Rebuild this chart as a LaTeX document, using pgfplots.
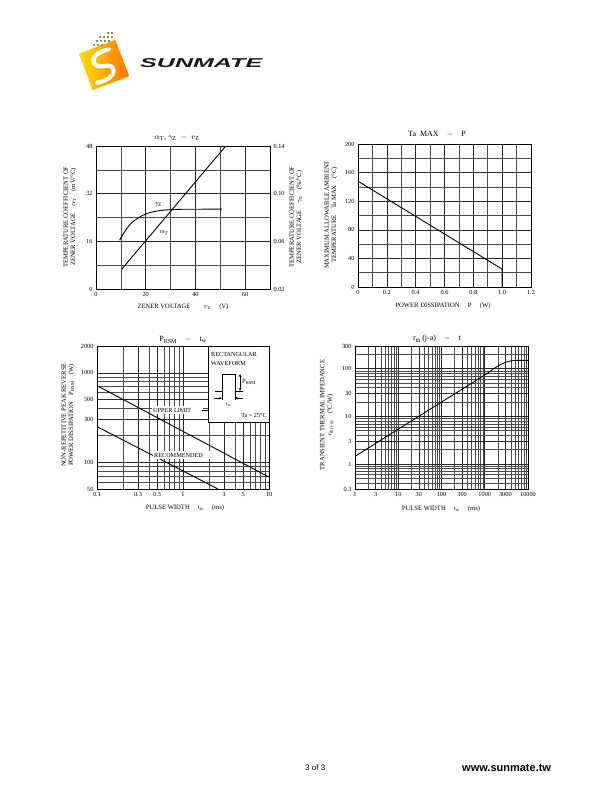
\documentclass[border=0pt]{standalone}
\usepackage{fontspec}
\setmainfont{Liberation Serif}
\newfontfamily\arial{Liberation Sans}
\usepackage{pgfplots}
\pgfplotsset{compat=1.18}
\newcommand\tk{\fontsize{6.3}{7}\selectfont}
\newcommand\lab{\fontsize{6.6}{7.4}\selectfont}
\newcommand\ttl{\fontsize{8}{9}\selectfont}
\pgfplotsset{ds/.style={scale only axis, anchor=south west,
  axis line style={black, line width=0.9pt},
  grid=both,
  major grid style={black!85, line width=0.55pt},
  minor grid style={black!70, line width=0.55pt},
  major tick length=0pt, minor tick length=0pt,
  tick label style={font=\tk},
  xtick pos=bottom, ytick pos=left,
  /pgf/number format/assume math mode=true,
  clip=true}}
\begin{document}
\begin{tikzpicture}[x=1pt,y=1pt]
\path[use as bounding box] (0,0) rectangle (610,-810);

% ---------- logo ----------
\begin{scope}[shift={(104,-65)}, rotate=21]
  \shade[left color=yellow!75!orange, right color=orange!90!red] (-19.5,-19.5) rectangle (19.5,19.5);
  \draw[white, line width=4.2pt, line cap=round] (10,13) .. controls (-14,16) and (-12,0) .. (0,-1) .. controls (12,-2) and (10,-18) .. (-13,-14);
\end{scope}
\foreach \x/\y in {100/-37,104/-37,108/-37,112/-37,97/-41,101/-41,105/-41,109/-41,94/-45,98/-45,102/-45,112/-33,108/-33}
  \fill[olive!60!gray] (\x-1.3,\y-1.3) rectangle (\x+1.3,\y+1.3);
\node[anchor=west, inner sep=0pt, text=black!90] at (140,-63) {\resizebox{122pt}{9pt}{\arial\bfseries\itshape SUNMATE}};

% ---------- chart 1 ----------
\begin{axis}[ds, at={(96pt,-289pt)}, width=174pt, height=143pt,
  xmin=0, xmax=70, ymin=0, ymax=48,
  xtick={0,20,40,60}, minor xtick={10,30,50},
  ytick={0,16,32,48}, minor ytick={8,24,40}]
  \addplot[black, line width=0.9pt] coordinates {(10.3,6.6) (52.2,48)};
\end{axis}
\begin{axis}[scale only axis, anchor=south west, at={(96pt,-289pt)}, width=174pt, height=143pt,
  xmin=0, xmax=70, ymin=0.02, ymax=0.14, hide x axis, axis y line*=right,
  axis line style={black, line width=0.9pt}, major tick length=0pt,
  ytick={0.02,0.06,0.10,0.14}, yticklabels={0.02,0.06,0.10,0.14},
  tick label style={font=\tk}, /pgf/number format/assume math mode=true]
  \addplot[black, line width=0.9pt, smooth, tension=0.5] coordinates {(9.5,0.061) (11,0.0665) (12.5,0.071) (14.3,0.0755) (16.5,0.079) (19,0.082) (22,0.0843) (25.7,0.0858) (30,0.0866) (35,0.0869) (50.6,0.087)};
\end{axis}
\node[font=\ttl] at (177,-138) {$\alpha_{\rm T}$, $\gamma_{\rm Z}$ \ $-$ \ $v_{\rm Z}$};
\node[font=\fontsize{7.5}{8}\selectfont] at (158,-205) {$\gamma_{\rm Z}$};
\node[font=\fontsize{7.5}{8}\selectfont] at (164,-233) {$\alpha_{\rm T}$};
\node[rotate=90, align=center, font=\lab] at (70,-217) {TEMPERATURE COEFFICIENT OF\\ZENER VOLTAGE\quad $\alpha_{\rm T}$\quad (mV/°C)};
\node[rotate=90, align=center, font=\lab] at (296,-217) {TEMPERATURE COEFFICIENT OF\\ZENER VOLTAGE\quad $\gamma_{\rm Z}$\quad (\%/°C)};
\node[font=\lab] at (183,-307) {ZENER VOLTAGE\qquad $v_{\rm Z}$\quad\ (V)};

% ---------- chart 2 ----------
\begin{axis}[ds, at={(358pt,-287pt)}, width=173pt, height=143pt,
  xmin=0, xmax=1.2, ymin=0, ymax=200,
  xtick={0,0.2,0.4,0.6,0.8,1.0,1.2}, xticklabels={0,0.2,0.4,0.6,0.8,1.0,1.2},
  minor xtick={0.1,0.3,0.5,0.7,0.9,1.1},
  ytick={0,40,80,120,160,200}, minor ytick={20,60,100,140,180}]
  \addplot[black, line width=0.9pt] coordinates {(0,148) (1.0,25) (1.0,0)};
\end{axis}
\node[font=\ttl] at (437,-134) {Ta\ \ MAX\quad$-$\quad P};
\node[rotate=90, align=center, font=\lab] at (331,-215) {MAXIMUM ALLOWABLE AMBIENT\\TEMPERATURE\quad Ta MAX\quad (°C)};
\node[font=\lab] at (443,-306) {POWER DISSIPATION\quad\ P\quad\ (W)};

% ---------- chart 3 ----------
\begin{axis}[ds, xmode=log, ymode=log, at={(97pt,-489pt)}, width=172pt, height=143pt,
  xmin=0.1, xmax=10, ymin=50, ymax=2000,
  xtick={0.1,0.3,0.5,1,3,5,10}, xticklabels={0.1,0.3,0.5,1,3,5,10},
  minor xtick={0.2,0.4,0.6,0.7,0.8,0.9,2,4,6,7,8,9},
  ytick={50,100,300,500,1000,2000}, yticklabels={50,100,300,500,1000,2000},
  minor ytick={60,70,80,90,200,400,600,700,800,900}]
  \addplot[black, line width=0.9pt] coordinates {(0.1,720) (10,68)};
  \addplot[black, line width=0.9pt] coordinates {(0.1,250) (2.55,50)};
\end{axis}
\fill[white] (208,-346.5) rectangle (268.5,-422);
\draw[black, line width=0.5pt] (208,-346.5) -- (208,-422) -- (268.5,-422);
\node[anchor=west, align=left, font=\fontsize{6.2}{8.5}\selectfont, inner sep=0pt] at (211,-359) {RECTANGULAR\\WAVEFORM};
\draw[black, line width=0.6pt] (215,-391) -- (222,-391) -- (222,-374) -- (235,-374) -- (235,-391) -- (243,-391);
\draw[black, line width=0.4pt, <->, >=stealth] (240,-374) -- (240,-391);
\node[anchor=west, font=\fontsize{6.5}{7}\selectfont, inner sep=0pt] at (242,-382) {P\textsubscript{RSM}};
\draw[black, line width=0.3pt] (222,-391) -- (222,-400) (235,-391) -- (235,-400);
\draw[black, line width=0.3pt, ->, >=stealth] (214,-398) -- (222,-398);
\draw[black, line width=0.3pt, ->, >=stealth] (243,-398) -- (235,-398);
\node[font=\fontsize{5.5}{6}\selectfont, inner sep=0pt] at (228.5,-404) {t\textsubscript{w}};
\node[anchor=east, font=\fontsize{6.2}{7}\selectfont, inner sep=0pt] at (267,-415) {Ta = 25°C};
\fill[white] (152,-406) rectangle (203,-414);
\node[anchor=west, font=\fontsize{6.2}{7}\selectfont, inner sep=0pt] at (153,-410) {UPPER LIMIT};
\draw[black, line width=0.4pt] (202,-410) -- (208,-410);
\fill[white] (153,-451) rectangle (212,-459);
\node[anchor=west, font=\fontsize{6.2}{7}\selectfont, inner sep=0pt] at (154,-455) {RECOMMENDED};
\node[font=\ttl] at (183,-340) {P\textsubscript{RSM}\quad$-$\quad t\textsubscript{w}};
\node[rotate=90, align=center, font=\lab] at (68,-415) {NON-REPETITIVE PEAK REVERSE\\POWER DISSIPATION\quad P\textsubscript{RSM}\quad (W)};
\node[font=\lab] at (185,-508) {PULSE WIDTH\quad\ t\textsubscript{w}\quad\ (ms)};

% ---------- chart 4 ----------
\begin{axis}[ds, xmode=log, ymode=log, at={(355pt,-489pt)}, width=173pt, height=143pt,
  xmin=1, xmax=10000, ymin=0.3, ymax=300,
  xtick={1,3,10,30,100,300,1000,3000,10000}, xticklabels={1,3,10,30,100,300,1000,3000,10000},
  minor xtick={2,4,5,6,7,8,9,20,40,50,60,70,80,90,200,400,500,600,700,800,900,2000,4000,5000,6000,7000,8000,9000},
  ytick={0.3,1,3,10,30,100,300}, yticklabels={0.3,1,3,10,30,100,300},
  minor ytick={0.4,0.5,0.6,0.7,0.8,0.9,2,4,5,6,7,8,9,20,40,50,60,70,80,90,200}]
  \addplot[black, line width=0.9pt, smooth, tension=0.4] coordinates {(1,1.45) (10,5.4) (100,20) (1000,74) (1600,100) (2400,124) (3500,142) (5000,149) (10000,150)};
\end{axis}
\node[font=\ttl] at (437,-339) {r\textsubscript{th}\,(j-a)\quad$-$\quad t};
\node[rotate=90, align=center, font=\lab] at (327,-415) {TRANSIENT THERMAL IMPEDANCE\\r\textsubscript{th\,(j-a)}\quad (°C/W)};
\node[font=\lab] at (441,-509) {PULSE WIDTH\quad\ t\textsubscript{w}\quad\ (ms)};

% ---------- footer ----------
\node[anchor=west, font=\arial\fontsize{8}{9}\selectfont, inner sep=0pt] at (305,-768) {3 of 3};
\node[anchor=west, font=\arial\bfseries\fontsize{11}{12}\selectfont, inner sep=0pt] at (462,-768) {www.sunmate.tw};
\end{tikzpicture}
\end{document}
